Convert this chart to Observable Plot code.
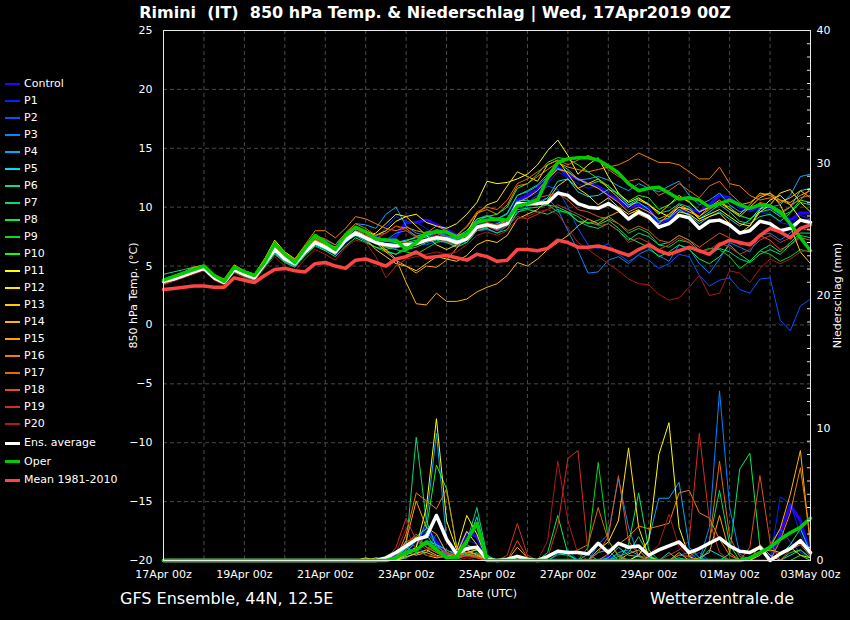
<!DOCTYPE html>
<html><head><meta charset="utf-8">
<script src="https://cdn.jsdelivr.net/npm/d3@7"></script>
<script src="https://cdn.jsdelivr.net/npm/@observablehq/plot@0.6"></script>
<style>
html,body{margin:0;padding:0;background:#000;}
#wrap{position:relative;width:850px;height:620px;background:#000;overflow:hidden;font-family:"DejaVu Sans",sans-serif;color:#fff;}
#chart{position:absolute;left:0;top:0;}
#title{position:absolute;top:3px;left:0;width:870px;text-align:center;font-weight:bold;font-size:16px;white-space:pre;}
.leg{position:absolute;left:0;height:14px;font-size:11px;line-height:14px;width:150px;}
.leg .sw{position:absolute;left:5px;width:15px;}
.leg .tx{position:absolute;left:24px;top:0;white-space:nowrap;}
.foot{position:absolute;top:589px;font-size:16px;white-space:nowrap;}
</style></head>
<body>
<div id="wrap">
<div id="chart"></div>
<div id="title">Rimini  (IT)  850 hPa Temp. &amp; Niederschlag | Wed, 17Apr2019 00Z</div>
<div id="legend"></div>
<div class="foot" style="left:120px">GFS Ensemble, 44N, 12.5E</div>
<div class="foot" style="left:650px">Wetterzentrale.de</div>
</div>
<script>
// 6-hourly steps, index 0 = 17Apr 00z ... 64 = 03May 00z
const tickLabels = ["17Apr 00z","19Apr 00z","21Apr 00z","23Apr 00z","25Apr 00z","27Apr 00z","29Apr 00z","01May 00z","03May 00z"];
const tempTicks = [-20,-15,-10,-5,0,5,10,15,20,25];
const precipMajor = [0,10,20,30,40];
const precipMinor = [1,2,3,4,5,6,7,8,9,11,12,13,14,15,16,17,18,19,21,22,23,24,25,26,27,28,29,31,32,33,34,35,36,37,38,39];

// 850 hPa temperature (°C)
const control = [3.6,3.9,4.3,4.6, 4.9,4.0,3.6,4.8, 4.3,4.0,5.1,6.6, 5.6,5.1,6.1,7.0, 6.6,6.0,7.3,7.8, 7.4,7.0,7.1,7.5, 8.7,8.7,8.9,8.5, 8.1,7.6,7.8,8.6, 8.5,8.2,8.8,10.6, 11.0,11.5,12.4,13.4, 12.7,12.4,12.0,11.7, 11.0,10.6,10.1,10.2, 9.9,8.6,9.0,9.7, 9.9,9.6,10.2,11.0, 10.8,10.0,9.7,10.0, 10.0,9.4,8.9,9.5, 9.5];
const p1 = [3.6,3.9,4.3,4.6, 4.9,4.0,3.5,4.8, 4.3,4.1,5.3,6.6, 5.7,5.3,6.4,7.3, 6.9,6.3,7.4,8.0, 7.6,7.2,8.3,9.2, 8.8,8.7,8.2,7.6, 7.4,7.2,8.0,8.9, 9.0,8.7,9.0,10.6, 10.8,11.2,12.0,13.0, 12.5,12.0,11.6,11.8, 11.4,10.5,9.8,10.2, 9.6,8.6,9.0,9.8, 9.5,8.8,9.5,10.4, 10.0,9.2,9.0,9.6, 9.4,8.7,8.5,9.3, 9.0];
const p2 = [3.7,4.0,4.3,4.5, 4.7,3.9,3.6,4.6, 4.2,3.9,5.0,6.2, 5.5,5.1,6.0,6.9, 6.5,6.0,7.0,7.6, 7.2,6.9,6.6,6.5, 6.9,7.0,6.8,7.1, 7.0,6.7,7.2,8.2, 8.4,8.0,8.7,10.1, 10.4,11.0,11.8,11.5, 10.0,8.2,6.8,6.5, 6.9,6.0,5.4,5.9, 5.5,4.8,5.2,6.0, 5.8,4.2,3.3,3.8, 4.0,3.0,2.7,3.9, 4.0,0.4,-0.5,1.6, 2.2];
const p3 = [3.8,4.1,4.4,4.6, 4.9,4.1,3.7,4.7, 4.4,4.1,5.4,6.3, 5.8,5.4,6.3,7.2, 7.0,6.6,7.6,8.2, 8.0,7.5,7.2,7.8, 8.0,7.6,7.4,7.9, 7.6,7.2,7.6,8.0, 8.1,7.8,8.4,9.5, 10.1,10.4,10.8,9.8, 8.0,6.3,4.4,4.5, 5.5,5.8,5.2,6.0, 6.4,5.9,5.4,6.8, 6.5,5.2,4.4,5.6, 7.0,6.6,6.2,7.6, 7.8,7.2,7.8,8.8, 9.0];
const p4 = [3.9,4.2,4.5,4.8, 5.0,4.2,3.8,4.9, 4.5,4.2,5.5,6.8, 5.9,5.5,6.6,7.6, 7.2,6.8,7.8,8.6, 8.5,8.2,9.4,10.0, 8.4,7.8,7.6,7.9, 7.5,7.3,7.8,9.0, 9.3,9.0,9.4,11.0, 11.3,11.8,12.6,13.3, 13.0,12.3,12.4,12.6, 12.3,11.8,11.4,12.0, 11.6,11.3,11.8,12.2, 11.0,10.2,10.6,11.2, 10.2,9.6,9.9,10.3, 10.0,10.2,11.0,12.6, 12.8];
const p5 = [3.6,3.9,4.2,4.4, 4.7,3.9,3.5,4.6, 4.2,3.9,5.0,6.1, 5.4,5.0,6.0,6.8, 6.4,6.0,7.0,7.7, 7.3,7.0,6.9,7.0, 7.2,7.4,7.6,7.8, 7.4,7.2,7.0,8.0, 8.3,8.6,9.0,10.5, 10.6,10.2,10.8,12.2, 12.4,11.3,10.9,11.0, 11.5,11.2,10.2,10.4, 9.8,8.8,9.1,9.8, 9.3,8.6,9.2,9.6, 9.0,8.4,8.9,9.9, 10.0,9.4,10.0,11.4, 11.6];
const p6 = [4.3,4.5,4.7,4.9, 5.0,4.2,3.8,4.8, 4.5,4.2,5.3,6.5, 5.7,5.3,6.4,7.2, 6.8,6.5,7.5,8.2, 7.6,7.0,6.3,6.0, 6.6,7.0,7.6,8.1, 7.9,7.6,7.8,8.8, 9.2,9.0,9.5,11.0, 11.4,11.9,12.8,13.8, 13.2,12.4,11.9,12.2, 11.8,11.0,10.2,10.7, 10.3,9.5,9.7,10.3, 10.0,9.0,9.6,10.2, 9.6,8.8,8.6,9.2, 9.4,8.8,9.5,10.4, 10.2];
const p7 = [3.7,4.0,4.4,4.6, 4.8,4.0,3.6,4.7, 4.3,4.0,5.1,6.3, 5.5,5.1,6.1,6.9, 6.5,6.1,7.1,7.6, 7.1,6.6,6.2,6.0, 6.4,6.6,7.0,7.2, 7.0,6.6,7.0,8.0, 8.2,7.8,8.1,9.6, 9.8,9.6,9.4,9.8, 9.5,8.8,8.4,8.2, 8.6,8.0,7.2,7.8, 7.5,6.8,7.0,7.6, 7.2,6.3,6.0,6.5, 6.2,5.6,5.3,6.0, 6.4,6.0,6.8,7.6, 7.4];
const p8 = [3.5,3.8,4.1,4.4, 4.7,3.9,3.5,4.5, 4.1,3.8,4.9,6.0, 5.3,4.9,5.9,6.7, 6.3,5.8,6.7,7.4, 7.0,6.6,6.4,6.7, 7.0,7.2,7.5,7.4, 7.1,6.8,7.2,8.0, 8.4,8.1,8.5,9.8, 9.9,10.0,10.2,10.0, 9.6,8.8,8.7,8.5, 8.9,8.2,7.4,7.0, 6.6,5.8,6.2,6.8, 6.4,5.6,5.2,5.8, 6.8,6.0,5.4,6.3, 6.8,6.2,7.0,7.8, 7.8];
const p9 = [3.6,3.9,4.2,4.5, 4.8,4.0,3.6,4.7, 4.3,4.0,5.2,6.4, 5.6,5.2,6.2,7.0, 6.6,6.2,7.2,7.8, 7.4,7.0,6.6,6.4, 6.2,6.0,6.5,7.0, 7.2,6.9,7.4,8.4, 8.6,8.4,9.0,10.0, 10.2,10.6,10.2,9.6, 9.6,9.2,8.6,8.9, 9.2,8.6,7.8,8.2, 7.8,6.8,6.6,7.2, 7.0,6.2,6.5,6.4, 5.8,4.8,5.4,6.3, 6.0,5.4,5.8,6.4, 6.2];
const p10 = [3.7,4.0,4.3,4.6, 4.9,4.1,3.7,4.9, 4.4,4.1,5.2,6.5, 5.7,5.3,6.4,7.3, 7.0,6.6,7.6,8.2, 7.8,7.4,7.3,7.0, 7.1,7.5,7.8,8.0, 7.8,7.5,8.0,9.0, 9.2,9.4,10.0,11.6, 12.0,12.8,13.8,14.2, 14.1,13.6,13.0,12.4, 11.8,11.1,10.5,11.0, 10.8,9.8,10.2,10.8, 10.5,9.6,10.0,10.4, 10.0,9.3,9.0,9.6, 9.8,9.2,9.6,10.6, 10.4];
const p11 = [3.6,3.9,4.3,4.7, 5.0,4.2,3.8,5.0, 4.6,4.3,5.6,7.2, 6.2,5.6,6.7,7.6, 7.0,6.5,7.4,8.2, 8.0,7.6,8.0,8.8, 9.2,9.4,8.7,8.4, 8.2,8.6,9.4,10.4, 12.2,12.0,12.1,12.4, 12.8,13.6,14.8,15.7, 14.4,12.8,13.6,14.2, 12.6,11.2,10.4,10.8, 10.2,9.6,9.2,10.0, 9.8,9.0,9.4,9.8, 9.2,8.6,8.4,9.8, 10.6,11.0,10.2,9.0, 8.6];
const p12 = [3.5,3.8,4.1,4.4, 4.7,3.9,3.5,4.6, 4.2,3.9,5.4,7.0, 6.0,5.4,6.3,7.0, 6.5,6.0,7.2,7.9, 7.5,7.8,8.6,9.4, 9.2,8.4,7.6,6.8, 6.4,6.8,7.8,9.4, 10.2,10.5,11.8,13.0, 12.6,12.2,13.6,14.0, 12.8,11.6,11.0,10.2, 10.8,10.0,9.4,9.8, 9.0,8.2,8.6,9.6, 9.4,8.8,9.2,9.5, 8.6,7.8,8.4,9.6, 10.2,11.2,11.5,10.4, 9.6];
const p13 = [3.6,3.9,4.2,4.5, 4.8,4.0,3.7,4.8, 4.4,4.1,5.3,6.6, 5.8,5.3,6.2,7.1, 6.7,6.3,7.3,7.9, 7.3,6.4,5.8,5.2, 5.0,4.6,5.2,5.8, 5.6,5.4,5.9,6.8, 7.2,7.0,7.6,9.0, 9.4,9.8,10.6,11.8, 12.4,11.6,12.0,12.4, 11.6,10.8,10.0,10.6, 10.2,9.4,10.2,11.0, 10.4,9.6,10.0,10.6, 9.8,9.2,10.0,10.8, 11.2,10.2,8.4,6.2, 5.2];
const p14 = [3.7,4.0,4.4,4.8, 5.0,4.2,3.8,4.9, 4.5,4.2,5.3,6.6, 5.8,5.4,6.4,7.2, 6.8,6.4,7.3,8.0, 7.6,7.2,6.4,5.6, 3.6,1.8,1.7,2.7, 2.0,2.0,2.2,2.8, 3.2,3.5,4.2,5.3, 5.0,5.6,6.4,7.0, 7.6,8.4,9.0,8.6, 9.2,9.6,9.0,9.4, 9.0,8.6,9.4,10.0, 9.6,9.2,10.0,10.4, 9.8,9.4,10.2,11.2, 11.0,10.4,10.8,11.4, 10.8];
const p15 = [3.8,4.1,4.5,4.9, 5.1,4.3,3.9,5.1, 4.6,4.3,5.6,7.0, 6.1,5.6,6.6,7.4, 7.0,6.6,7.6,8.3, 7.8,7.0,6.2,5.5, 5.0,4.4,5.0,4.9, 5.5,6.5,7.6,8.2, 8.6,8.4,9.0,10.4, 10.8,11.4,12.4,13.2, 13.0,12.4,12.0,11.6, 11.0,10.4,9.6,10.0, 9.6,9.0,9.4,10.2, 9.8,9.2,9.8,10.4, 10.6,10.2,10.4,11.0, 11.2,10.6,10.4,11.0, 11.4];
const p16 = [3.7,4.0,4.3,4.7, 5.0,4.2,3.8,5.0, 4.5,4.2,5.5,6.9, 6.0,5.6,6.8,8.0, 8.0,7.4,8.2,9.2, 9.0,8.6,8.2,8.0, 8.3,8.0,7.8,8.4, 8.0,7.6,8.3,9.5, 9.8,9.4,10.2,11.8, 12.0,12.6,13.2,13.8, 13.4,13.2,13.0,13.2, 13.4,13.6,14.0,14.6, 14.2,13.8,13.8,13.6, 13.0,12.4,12.4,13.4, 12.0,11.8,11.0,10.6, 10.8,10.6,10.2,10.6, 11.6];
const p17 = [3.6,3.9,4.2,4.6, 4.9,4.1,3.7,4.8, 4.4,4.1,5.3,6.7, 5.8,5.4,6.5,7.6, 7.3,6.8,7.8,8.6, 8.2,7.6,7.8,8.4, 8.2,7.5,7.2,7.6, 7.4,7.6,8.4,9.6, 10.0,9.8,10.6,12.0, 12.4,13.0,13.6,14.0, 13.6,14.0,14.4,14.0, 13.2,12.6,12.2,12.4, 11.8,11.0,11.4,12.0, 11.4,10.8,11.8,12.2, 11.2,10.4,9.8,10.4, 10.2,9.6,10.0,10.8, 11.0];
const p18 = [3.5,3.8,4.1,4.4, 4.7,3.9,3.5,4.6, 4.2,3.9,5.1,6.3, 5.5,5.1,6.2,7.1, 6.7,6.3,7.3,7.9, 7.5,7.1,6.8,6.9, 7.0,6.8,7.1,7.3, 7.1,6.8,7.3,8.4, 8.7,8.5,8.8,10.0, 10.4,10.8,11.0,11.2, 10.6,9.8,9.6,9.2, 9.0,8.6,8.0,8.4, 8.0,7.2,7.0,7.6, 7.2,6.6,7.2,7.8, 7.4,6.8,7.0,7.6, 7.2,6.4,6.8,7.4, 7.2];
const p19 = [3.6,3.9,4.2,4.5, 4.8,4.0,3.6,4.7, 4.3,4.0,5.2,6.4, 5.6,5.2,6.3,7.3, 6.9,6.4,7.5,8.2, 7.6,7.3,7.8,8.4, 8.0,7.4,7.2,7.8, 7.4,7.0,7.2,8.0, 8.4,8.0,8.4,9.2, 9.0,9.4,9.8,10.2, 9.8,9.4,9.0,8.4, 8.6,8.0,7.0,7.4, 7.0,6.4,6.8,7.4, 7.0,6.2,6.4,7.0, 6.6,6.0,6.4,7.2, 7.6,7.0,7.4,8.2, 8.0];
const p20 = [3.4,3.7,4.0,4.3, 4.6,3.8,3.4,4.4, 4.0,3.7,4.8,5.8, 5.0,4.6,5.6,6.4, 6.0,5.5,6.6,7.2, 7.0,5.8,4.0,5.0, 5.6,5.8,6.0,6.2, 6.0,6.2,6.8,7.6, 7.9,7.6,8.0,9.0, 9.2,9.6,9.8,9.4, 8.2,7.0,6.4,5.8, 5.2,4.6,3.9,3.5, 3.4,2.6,2.1,2.3, 3.2,4.2,2.5,2.7, 4.6,4.4,3.6,4.8, 5.6,5.2,5.6,6.2, 6.4];
const ensAvg = [3.7,3.9,4.2,4.5, 4.8,4.0,3.6,4.7, 4.3,4.0,5.2,6.4, 5.6,5.2,6.2,7.0, 6.6,6.2,7.2,7.8, 7.4,7.0,6.8,6.7, 6.8,6.9,7.2,7.4, 7.3,7.0,7.3,8.3, 8.5,8.3,8.6,10.3, 10.3,10.3,10.4,11.2, 11.0,10.3,10.0,9.9, 10.3,9.8,9.0,9.6, 9.2,8.3,8.6,9.3, 9.1,8.2,8.8,8.9, 8.5,7.8,8.0,8.8, 8.6,8.0,8.2,8.9, 8.7];
const oper = [3.8,4.1,4.4,4.7, 5.0,4.2,3.7,4.9, 4.5,4.2,5.3,6.9, 6.0,5.3,6.5,7.6, 7.0,6.4,7.6,8.3, 7.9,7.3,7.2,7.2, 6.4,7.0,7.8,7.9, 7.9,7.4,7.7,8.7, 8.9,9.0,8.9,10.1, 10.3,10.6,12.5,13.8, 14.1,14.2,14.2,14.0, 13.5,12.9,12.0,11.4, 11.6,11.7,11.2,10.7, 10.8,10.6,10.0,10.3, 10.6,10.2,9.9,10.2, 10.1,9.6,8.6,7.4, 6.3];
const mean8110 = [3.0,3.1,3.2,3.3, 3.3,3.2,3.2,4.0, 3.8,3.6,4.2,4.7, 4.8,4.6,4.5,5.2, 5.3,5.0,4.8,5.5, 5.6,5.3,5.0,5.6, 5.8,6.2,5.7,5.8, 5.9,5.7,5.5,6.0, 5.8,5.4,5.5,6.4, 6.4,6.3,6.5,7.2, 7.0,6.6,6.6,6.7, 6.5,6.2,5.9,6.4, 6.8,6.3,6.0,6.3, 6.6,6.3,6.0,6.8, 7.2,7.0,6.8,7.6, 8.2,7.9,7.4,8.2, 8.5];

// 6-hourly precipitation (mm), right axis
const controlPr = [0,0,0,0, 0,0,0,0, 0,0,0,0, 0,0,0,0, 0,0,0,0, 0,0,0,0.3, 1.0,1.5,2.5,1.4, 0.4,0.6,2.1,1.8, 0,0,0,0, 0,0,0,0, 0,0,0,0, 0.3,0,0,0, 0,0,0,0, 0,0,0,0, 0,0,0,0, 0,2.0,4.2,3.0, 0.4];
const p1Pr = [0,0,0,0, 0,0,0,0, 0,0,0,0, 0,0,0,0, 0,0,0,0, 0,0,0,0.2, 0.8,1.2,1.8,1.0, 0.2,0.4,1.6,1.2, 0,0,0,0, 0,0,0,0, 0,0,0,0, 0,0,0,0, 0,0,0,0, 0,0,0,0, 0,0,0,0, 0,4.8,4.3,2.0, 0.3];
const p2Pr = [0,0,0,0, 0,0,0,0, 0,0,0,0, 0,0,0,0, 0,0,0,0, 0,0,0,0.4, 1.5,1.0,0.6,2.0, 0.5,0.2,0.8,0.3, 0,0,0,0, 0,0,0,0.4, 0.8,0,0,0, 0,0.5,0,0, 0,0,0,0, 0.2,0.6,0,0, 0,0,0,0.5, 1.2,2.4,1.4,0.6, 0.2];
const p3Pr = [0,0,0,0, 0,0,0,0, 0,0,0,0, 0,0,0,0, 0,0,0,0, 0,0,0,0.3, 1.0,0.6,2.2,1.2, 0.4,0.2,0.5,0.3, 0.3,0,0,0, 0,0,0,0, 0,0,0,1.2, 2.0,6.2,2.5,0.3, 0,0,0,0.4, 0.6,0,2.5,12.8, 4.0,0.5,0,0, 0,0,0,0, 0];
const p4Pr = [0,0,0,0, 0,0,0,0, 0,0,0,0, 0,0,0,0, 0,0,0,0, 0,0,0,0.2, 0.6,1.0,3.0,9.6, 1.5,0.3,0.8,0.4, 0,0,0,0, 0,0,0,0, 0,0,0,0, 0,0.6,0.8,0.4, 1.6,4.7,4.7,5.9, 1.0,0.2,0,0, 0,0,0,0, 0,0,0,0, 0];
const p5Pr = [0,0,0,0, 0,0,0,0, 0,0,0,0, 0,0,0,0, 0,0,0,0, 0,0,0,0, 0.4,0.8,1.5,1.2, 0.3,0.5,1.2,3.3, 0.2,0,0,0, 0,0,0,0, 0,0,0.5,0, 0.2,1.0,0.4,0.3, 0.2,0,0.6,0, 0,0,0.8,0.4, 0,0,0,0, 0,0,0.4,0.8, 0.2];
const p6Pr = [0,0,0,0, 0,0,0,0, 0,0,0,0, 0,0,0,0, 0,0,0,0, 0,0,0,0, 0.2,0.6,0.6,1.2, 0.8,0.4,1.2,0.8, 0,0,0,0, 0,0,0,0.5, 0.4,0,0,0, 0,0.3,0.6,1.8, 0.4,0,0,0.2, 0,0,0,0, 0,0,0,0, 0,0.4,1.2,2.4, 0.6];
const p7Pr = [0,0,0,0, 0,0,0,0, 0,0,0,0, 0,0,0,0, 0,0,0,0, 0,0,0,0.2, 1.0,9.3,3.0,1.0, 0.6,0.8,1.4,4.0, 0.4,0,0,0, 0,0,0,0, 0,0,0,0.6, 0.8,0,0,0, 0,0,0,0, 0,0,1.5,5.3, 1.2,0,0,0, 0,0,0,0, 0];
const p8Pr = [0,0,0,0, 0,0,0,0, 0,0,0,0, 0,0,0,0, 0,0,0,0, 0,0,0,0, 0.6,1.5,2.0,0.8, 0.3,0.2,0.6,0.8, 0,0,0,0, 0,0,0.6,3.4, 0.5,0,0,0, 0,0,1.2,5.1, 0.8,0,0,0, 0,0,0,0, 0.5,6.9,8.1,1.0, 0,0,0,0, 0];
const p9Pr = [0,0,0,0, 0,0,0,0, 0,0,0,0, 0,0,0,0, 0,0,0,0, 0,0,0,0.1, 0.8,1.6,1.0,0.6, 0.2,0.1,0.4,0.6, 0,0,0,0, 0,0,0,0, 0,0,1.0,7.4, 1.5,0.3,0,0.4, 0,0,0,0, 0,0,0,0, 0,0,0,0, 0,0,0.6,0.8, 0.2];
const p10Pr = [0,0,0,0, 0,0,0,0, 0,0,0,0, 0,0,0,0, 0,0,0,0, 0,0,0,0.3, 0.9,1.8,2.4,7.2, 5.4,1.0,0.5,0.3, 0,0,0,0, 0,0,0,0, 0,0,0,0, 0,0,0,0, 0,0,0,0, 0,0,0,0, 0,0,0,0, 0,0,0,0.4, 0];
const p11Pr = [0,0,0,0, 0,0,0,0, 0,0,0,0, 0,0,0,0, 0,0,0,0, 0,0,0,0, 0.5,1.0,4.0,10.7, 3.0,0.8,3.4,2.0, 0,0,0,0, 0,0,0,0, 0,0,0,0, 0,0,0,0.4, 1.5,8.0,10.4,2.5, 0.3,0,0,0, 0,0,0,0, 0,0,0,0, 0];
const p12Pr = [0,0,0,0, 0,0,0,0, 0,0,0,0, 0,0,0,0, 0,0,0,0, 0.2,0,0,0, 0.6,0.8,0.4,0.2, 0.3,0.5,2.2,1.2, 0,0,0,0, 0,0,0,0, 0,0,0,0.8, 1.4,3.0,8.5,2.5, 0.3,0,0,0, 0,0,0,0, 0,0,0,0, 0,0,0,0, 0];
const p13Pr = [0,0,0,0, 0,0,0,0, 0,0,0,0, 0,0,0,0, 0,0,0,0, 0,0.2,0.1,0, 0.3,0.5,0.8,0.4, 0.2,0.3,0.6,0.8, 0,0,0,0, 0,0,0,0, 0,0,0,0, 0,0,0,0, 0,0,0,0, 0,0,0,0, 0,0,0,0.6, 0.8,0.6,1.0,0.4, 0.2];
const p14Pr = [0,0,0,0, 0,0,0,0, 0,0,0,0, 0,0,0,0, 0,0,0,0, 0,0,0,0.1, 0.6,0.4,0.6,0.3, 0.2,0.5,0.8,0.4, 0,0,0,1.0, 0.2,0,0,0, 0,0,0,0, 0,0,0,0, 0,0,0,0, 0,0,0,0, 0,0,0,0.4, 1.0,2.4,5.0,8.3, 1.0];
const p15Pr = [0,0,0,0, 0,0,0,0, 0,0,0,0, 0,0,0,0, 0,0,0,0, 0,0,0,0.2, 1.5,4.5,2.5,2.0, 0.6,0.3,0.6,0.5, 0,0,0,0, 0,0,0,0, 0,0,0,0, 0,0,0.5,0.8, 0,0,0,0.6, 0,0.2,0.6,3.4, 0.6,0,0,1.2, 0.4,0,0,0, 0];
const p16Pr = [0,0,0,0, 0,0,0,0, 0,0,0,0, 0,0,0,0, 0,0,0,0, 0,0,0,0.1, 2.0,5.1,4.5,3.9, 5.4,1.0,0.4,0.2, 0,0,0,0, 0,0,0,0, 0,0,0,0, 0.5,1.2,1.8,2.6, 2.4,2.6,2.8,5.1, 5.3,3.6,3.2,1.6, 0.4,0,0,0, 0,1.5,3.6,7.0, 1.6];
const p17Pr = [0,0,0,0, 0,0,0,0, 0,0,0,0, 0,0,0,0, 0,0,0,0, 0,0,0,0.3, 1.2,2.0,1.0,0.6, 0.3,0.2,0.4,0.3, 0,0,0,0, 0,0,0.4,0.8, 0.5,0.8,1.2,4.0, 1.5,0.4,0,0, 0,0,0,0.4, 0.3,0.8,1.4,7.5, 1.8,0.3,0,0, 0,0,0.8,1.2, 0.3];
const p18Pr = [0,0,0,0, 0,0,0,0, 0,0,0,0, 0,0,0,0, 0,0,0,0, 0,0,0,0.2, 1.4,1.8,1.0,0.8, 0.5,0.3,0.6,0.3, 0,0,0,1.5, 0.2,0,0,0, 0,0,0,0.6, 1.8,6.4,1.5,0.4, 0,0,0,0, 0,0,0,0, 0,0,1.0,6.4, 1.4,0,0,0, 0];
const p19Pr = [0,0,0,0, 0,0,0,0, 0,0,0,0, 0,0,0,0, 0,0,0,0, 0,0,0,1.0, 3.2,1.5,0.8,1.0, 0.6,0.4,0.3,0.2, 0,0,0.4,2.8, 0.4,0,0.2,2.6, 7.7,8.3,0.5,0, 0,0,0,0, 0,0,0.4,0.8, 1.5,9.6,3.0,0.6, 0,0,0,0, 0,0,0,0, 0];
const p20Pr = [0,0,0,0, 0,0,0,0, 0,0,0,0, 0,0,0,0, 0,0,0,0, 0,0,0,0.6, 2.4,0.8,0.4,0.3, 0.2,0,0.2,0, 0,0,0,0.4, 0.2,0,1.5,7.5, 3.0,0.5,0,0, 0,0,0,0, 0.4,1.2,3.5,1.0, 0.2,0,0,0, 0,0,0,0, 0,0,0,0, 0];
const ensAvgPr = [0,0,0,0, 0,0,0,0, 0,0,0,0, 0,0,0,0, 0,0,0,0, 0,0,0.2,0.6, 1.1,1.6,1.8,3.4, 1.6,0.5,0.9,1.0, 0.1,0,0.1,0.3, 0.1,0,0.3,0.7, 0.6,0.6,0.5,1.3, 0.6,1.3,1.0,1.1, 0.4,0.8,1.1,1.4, 0.6,0.9,1.3,1.7, 1.1,0.7,0.6,1.0, 0,0.5,0.9,1.5, 0.6];
const operPr = [0,0,0,0, 0,0,0,0, 0,0,0,0, 0,0,0,0, 0,0,0,0, 0,0,0,0.2, 0.6,0.8,1.4,0.8, 0.2,0.3,1.5,2.8, 0,0,0,0, 0,0,0,0, 0,0,0,0, 0,0,0,0, 0,0,0,0, 0,0,0,0, 0,0,0.2,0.6, 1.0,1.6,2.1,2.5, 3.2];

const series = [
  {name:"Control", color:"#2800ff", w:3, t:control, p:controlPr},
  {name:"P1", color:"#0022ff", w:1, t:p1, p:p1Pr},
  {name:"P2", color:"#0055ff", w:1, t:p2, p:p2Pr},
  {name:"P3", color:"#0088ff", w:1, t:p3, p:p3Pr},
  {name:"P4", color:"#00aaff", w:1, t:p4, p:p4Pr},
  {name:"P5", color:"#00ddee", w:1, t:p5, p:p5Pr},
  {name:"P6", color:"#00dd99", w:1, t:p6, p:p6Pr},
  {name:"P7", color:"#00dd77", w:1, t:p7, p:p7Pr},
  {name:"P8", color:"#00ee55", w:1, t:p8, p:p8Pr},
  {name:"P9", color:"#00dd22", w:1, t:p9, p:p9Pr},
  {name:"P10", color:"#11ff00", w:1, t:p10, p:p10Pr},
  {name:"P11", color:"#ffff00", w:1, t:p11, p:p11Pr},
  {name:"P12", color:"#ffe600", w:1, t:p12, p:p12Pr},
  {name:"P13", color:"#ffcc00", w:1, t:p13, p:p13Pr},
  {name:"P14", color:"#ffb400", w:1, t:p14, p:p14Pr},
  {name:"P15", color:"#ffa000", w:1, t:p15, p:p15Pr},
  {name:"P16", color:"#f08000", w:1, t:p16, p:p16Pr},
  {name:"P17", color:"#e86800", w:1, t:p17, p:p17Pr},
  {name:"P18", color:"#e05020", w:1, t:p18, p:p18Pr},
  {name:"P19", color:"#d03020", w:1, t:p19, p:p19Pr},
  {name:"P20", color:"#b01818", w:1, t:p20, p:p20Pr},
  {name:"Ens. average", color:"#ffffff", w:3.5, t:ensAvg, p:ensAvgPr},
  {name:"Oper", color:"#00cc00", w:3.5, t:oper, p:operPr},
  {name:"Mean 1981-2010", color:"#ff4444", w:3.5, t:mean8110, p:null}
];

// precipitation (0..40 mm) shares the plot with temperature (-20..25 °C)
const pToT = p => -20 + p * 45 / 40;
const tToP = t => Math.round((t + 20) * 40 / 45);

const lineMarks = [];
for (const s of series) {
  lineMarks.push(Plot.line(s.t.map((v, i) => ({i, v})), {x:"i", y:"v", stroke:s.color, strokeWidth:s.w}));
  if (s.p) lineMarks.push(Plot.line(s.p.map((v, i) => ({i, v:pToT(v)})), {x:"i", y:"v", stroke:s.color, strokeWidth:s.w}));
}

const dayIdx = d3.range(4, 64, 4);
const labelIdx = tickLabels.map((_, k) => k * 8);
const grid = {stroke:"#4a4a4a", strokeOpacity:1, strokeDasharray:"4,3"};

const chart = Plot.plot({
  width:850, height:620,
  marginLeft:163, marginRight:40, marginTop:30, marginBottom:60,
  style:{background:"#000", color:"#ececec", fontFamily:"DejaVu Sans, sans-serif", fontSize:"11px"},
  x:{domain:[0,64]},
  y:{domain:[-20,25]},
  marks:[
    Plot.gridX(dayIdx, grid),
    Plot.gridY(tempTicks.slice(1, -1), grid),
    ...lineMarks,
    Plot.frame({stroke:"#e8e8e8"}),
    Plot.axisX({ticks:labelIdx, tickSize:0, tickPadding:10, tickFormat:i => tickLabels[i / 8], fill:"#fff",
      label:"Date (UTC)", labelAnchor:"center", labelArrow:"none", labelOffset:36}),
    Plot.axisY({ticks:tempTicks, anchor:"left", tickSize:0, tickPadding:11, fill:"#fff",
      label:"850 hPa Temp. (°C)", labelAnchor:"center", labelArrow:"none", labelOffset:34}),
    Plot.axisY({ticks:precipMajor.map(pToT), anchor:"right", tickSize:0, tickPadding:6, fill:"#fff",
      tickFormat:tToP, label:"Niederschlag (mm)", labelAnchor:"center", labelArrow:"none", labelOffset:30}),
    Plot.axisY({ticks:precipMinor.map(pToT), anchor:"right", tickSize:4, insetRight:4, stroke:"#e8e8e8",
      tickFormat:() => "", label:null})
  ]
});
document.getElementById("chart").appendChild(chart);

// legend
const leg = document.getElementById("legend");
series.forEach((s, k) => {
  const cy = 84 + 17 * k + (k >= 21 ? 2 + (k - 21) * 1.6 : 0);
  const row = document.createElement("div");
  row.className = "leg";
  row.style.top = (cy - 7) + "px";
  const sw = document.createElement("div");
  sw.className = "sw";
  const h = k >= 21 ? 3 : 2;
  sw.style.height = h + "px";
  sw.style.top = (7 - h / 2) + "px";
  sw.style.background = s.color;
  const tx = document.createElement("div");
  tx.className = "tx";
  tx.textContent = s.name;
  row.appendChild(sw); row.appendChild(tx);
  leg.appendChild(row);
});
</script>
</body></html>
